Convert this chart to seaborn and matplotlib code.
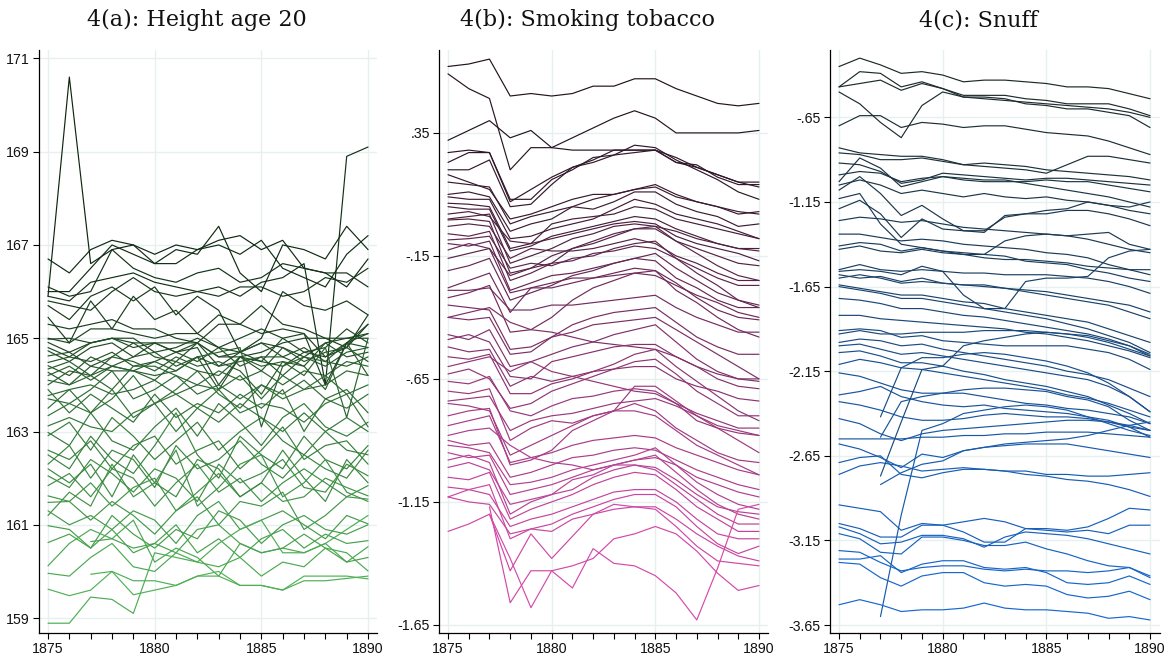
import numpy as np
import pandas as pd
import matplotlib
matplotlib.use("Agg")
import matplotlib.pyplot as plt
import seaborn as sns
from matplotlib.colors import LinearSegmentedColormap
from matplotlib.ticker import FixedLocator, MultipleLocator

nan = np.nan
years = list(range(1875, 1891))

height_lines = [
    [165.9,170.6,166.6,166.9,167.0,166.8,167.0,166.9,167.1,167.2,166.9,167.1,166.5,166.4,166.1,166.7],
    [166.7,166.4,166.9,167.1,167.0,166.6,166.9,166.8,167.4,166.4,166.0,167.0,166.9,166.7,167.4,166.9],
    [166.0,166.0,166.5,167.0,166.8,166.6,166.6,166.9,167.0,166.8,167.1,166.5,166.3,166.1,166.8,167.2],
    [166.1,165.9,166.0,166.9,166.5,166.3,166.2,166.4,166.5,166.2,166.3,166.6,166.5,166.4,166.4,166.1],
    [165.9,165.8,166.2,166.3,166.4,166.2,166.1,166.0,166.1,165.9,166.2,166.3,166.6,164.0,168.9,169.1],
    [165.8,165.7,165.6,166.0,166.3,166.0,165.9,166.0,165.9,166.1,166.1,165.9,166.0,166.3,166.2,166.5],
    [165.7,165.4,165.9,166.1,165.8,166.1,165.5,165.9,165.6,164.7,165.0,166.0,165.7,165.6,165.8,165.5],
    [165.45,164.9,165.8,165.2,165.9,165.4,165.6,165.1,165.5,165.3,165.7,165.3,165.2,165.0,164.8,165.3],
    [165.3,165.2,165.3,165.4,165.2,165.2,165.0,164.9,165.3,165.3,165.1,165.2,165.1,164.6,164.8,165.5],
    [164.98,165.0,164.9,165.0,164.9,164.9,164.9,164.9,164.6,164.6,164.7,164.9,165.0,165.0,165.0,165.1],
    [164.91,164.7,164.9,165.0,165.0,164.7,164.8,165.0,164.8,164.7,164.9,164.8,164.6,164.9,165.0,165.0],
    [164.73,164.5,164.8,164.9,164.6,164.9,164.7,164.9,164.4,164.7,164.5,165.0,164.7,164.8,165.2,164.9],
    [164.62,164.7,164.4,164.6,164.9,164.6,164.5,164.9,164.6,164.7,164.9,164.6,164.8,164.5,164.9,164.8],
    [164.48,164.6,164.5,164.7,164.4,164.5,164.7,164.5,164.8,164.4,164.6,164.6,164.4,164.9,164.6,164.7],
    [164.41,164.2,164.6,164.4,164.6,164.7,164.4,164.6,163.9,164.6,164.3,164.8,164.5,164.7,164.8,164.5],
    [164.34,164.5,164.2,164.6,164.5,164.3,164.6,164.4,164.5,164.3,163.8,164.5,164.4,163.9,164.9,164.2],
    [164.27,164.0,164.4,164.3,164.3,164.5,164.3,164.6,164.4,164.5,164.6,164.2,164.6,164.4,164.7,164.8],
    [164.2,164.4,164.1,164.4,164.3,164.1,164.5,164.3,164.2,164.6,164.4,164.5,164.2,164.8,163.3,165.0],
    [164.1,164.0,164.2,163.9,164.4,164.4,164.2,164.0,164.3,164.1,164.3,164.0,164.3,164.2,164.5,164.4],
    [163.77,163.9,164.0,163.8,163.9,164.1,163.8,164.0,163.9,164.2,163.7,164.2,163.9,164.0,164.3,164.2],
    [163.7,163.6,163.9,164.3,163.7,163.9,164.2,163.8,164.0,163.7,164.0,163.8,164.1,163.7,163.9,163.4],
    [163.34,163.6,163.4,163.9,163.3,163.6,163.8,163.5,163.9,163.4,163.6,163.5,163.2,163.6,163.8,163.1],
    [163.12,163.3,163.1,163.0,163.4,163.6,163.0,163.5,163.2,163.6,163.3,163.0,163.4,163.0,163.3,163.0],
    [162.98,162.7,163.4,162.8,162.6,163.1,163.5,162.9,163.6,163.2,162.7,163.3,163.6,163.1,162.9,163.2],
    [162.91,163.2,162.6,163.3,162.9,162.4,162.8,163.2,162.6,163.0,163.3,162.8,162.5,163.0,162.6,162.5],
    [162.6,162.4,162.8,162.2,162.7,162.9,162.3,162.6,162.8,162.2,162.6,163.1,162.4,162.7,162.8,162.3],
    [162.3,162.7,162.0,162.6,162.4,161.8,162.7,162.2,162.4,162.8,162.3,162.0,162.5,162.2,162.0,162.6],
    [162.05,161.8,162.4,162.1,161.7,162.2,162.0,161.5,162.3,161.9,162.1,162.4,161.8,161.7,162.3,162.05],
    [161.84,162.1,161.6,162.2,162.0,161.4,161.9,162.3,161.7,162.0,161.5,161.9,162.2,161.9,161.6,161.84],
    [161.62,161.5,161.9,161.4,161.8,162.0,161.3,161.7,162.1,161.6,161.9,161.5,161.6,162.0,161.8,161.62],
    [161.48,161.5,161.1,161.5,161.2,160.8,161.3,161.6,161.0,161.5,161.4,161.7,160.9,161.2,161.6,161.55],
    [161.30,161.0,161.2,160.9,161.3,161.1,160.6,161.2,161.5,160.9,161.1,161.3,161.0,160.7,161.2,161.02],
    [160.98,160.9,160.5,161.2,160.8,160.5,160.9,160.7,161.3,161.1,160.6,161.0,161.2,160.9,160.8,161.0],
    [160.62,160.8,160.5,160.9,160.4,160.6,161.0,160.4,160.7,160.3,160.7,160.9,160.5,160.8,160.6,160.66],
    [160.12,160.6,160.9,160.7,161.1,160.2,160.5,160.3,159.9,160.6,160.4,160.5,160.4,160.6,160.2,160.53],
    [159.96,159.9,160.3,160.6,160.1,160.0,160.4,160.2,160.1,160.3,159.9,160.2,160.1,160.5,160.4,160.01],
    [159.62,159.48,159.6,160.0,159.5,159.6,159.7,159.9,160.0,159.7,159.7,159.6,159.9,159.9,159.9,159.84],
    [158.89,158.89,159.45,159.4,159.1,160.4,160.3,160.2,160.6,160.9,161.1,160.4,160.4,160.6,160.9,161.2],
    [nan,nan,160.64,160.7,160.5,160.6,160.4,160.9,161.0,160.6,160.4,160.5,160.8,160.5,160.2,160.3],
    [nan,nan,159.94,160.0,159.8,159.8,159.7,159.9,159.9,159.7,159.7,159.6,159.8,159.8,159.85,159.9],
    [164.8,164.6,164.9,165.0,164.8,164.9,164.7,164.8,164.0,164.6,164.5,164.4,164.7,164.6,164.9,165.1],
    [164.0,164.3,164.2,164.4,164.3,164.2,164.3,164.6,164.7,164.8,163.1,164.4,164.6,164.5,164.4,164.6],
    [165.0,164.9,165.2,165.2,165.1,165.0,165.1,165.1,164.8,165.0,165.2,165.0,165.1,164.0,164.9,165.3],
    [163.5,163.9,163.4,163.7,164.2,163.6,163.9,164.3,163.8,163.5,164.0,163.7,163.9,164.2,163.8,164.0],
    [162.5,162.2,162.9,162.4,162.1,162.7,163.4,162.5,162.0,162.9,162.5,162.2,162.9,162.4,162.2,162.7],
    [161.2,161.7,161.4,162.3,161.6,161.9,162.6,161.4,161.8,162.3,162.5,161.6,161.9,162.4,161.7,161.5],
    [162.2,161.9,162.3,161.6,162.5,161.9,161.6,162.4,162.2,161.6,161.9,162.6,162.0,161.5,162.4,161.9],
    [163.9,163.4,163.8,163.5,163.2,163.8,163.3,163.6,163.4,163.8,163.5,163.9,163.0,163.7,163.5,163.8],
]

smoking_lines = [
    [0.62,0.63,0.65,0.50,0.51,0.50,0.51,0.54,0.54,0.57,0.57,0.53,0.50,0.47,0.46,0.47],
    [0.59,0.53,0.49,0.20,0.29,0.29,0.28,0.28,0.28,0.28,0.28,0.23,0.21,0.18,0.15,0.15],
    [0.32,0.36,0.40,0.33,0.36,0.29,0.33,0.37,0.41,0.44,0.41,0.35,0.35,0.35,0.35,0.36],
    [0.27,0.28,0.27,0.07,0.12,0.17,0.21,0.24,0.28,0.28,0.28,0.25,0.21,0.18,0.15,0.13],
    [0.23,0.27,0.27,0.08,0.08,0.16,0.20,0.25,0.26,0.30,0.29,0.24,0.20,0.16,0.11,0.08],
    [0.20,0.20,0.24,0.05,0.06,0.14,0.21,0.23,0.26,0.27,0.28,0.23,0.22,0.17,0.14,0.14],
    [0.18,0.15,0.12,0.00,0.02,0.05,0.08,0.10,0.10,0.12,0.14,0.10,0.07,0.05,0.02,0.03],
    [0.15,0.14,0.13,-0.02,0.01,0.03,0.05,0.08,0.10,0.12,0.13,0.09,0.07,0.05,0.03,0.02],
    [0.10,0.11,0.09,-0.05,-0.02,0.00,0.05,0.04,0.07,0.11,0.11,0.06,0.03,0.01,-0.03,-0.02],
    [0.09,0.08,0.08,-0.08,-0.07,-0.04,-0.02,0.00,0.04,0.08,0.06,0.02,0.00,-0.02,-0.05,-0.08],
    [0.064,0.06,0.05,-0.12,-0.10,-0.02,0.00,0.01,0.02,0.05,0.04,0.00,-0.02,-0.04,-0.06,-0.08],
    [0.05,0.04,0.04,-0.13,-0.11,-0.07,-0.05,-0.03,-0.01,0.01,0.00,-0.04,-0.07,-0.10,-0.12,-0.12],
    [0.02,0.03,0.01,-0.09,-0.10,-0.08,-0.06,-0.04,-0.02,-0.01,-0.02,-0.07,-0.10,-0.12,-0.14,-0.17],
    [0.00,0.01,0.02,-0.18,-0.15,-0.12,-0.08,-0.06,-0.03,-0.02,-0.03,-0.05,-0.08,-0.10,-0.12,-0.13],
    [-0.004,0.00,-0.01,-0.22,-0.20,-0.18,-0.12,-0.10,-0.07,-0.04,-0.04,-0.09,-0.12,-0.15,-0.18,-0.19],
    [-0.03,-0.02,-0.03,-0.16,-0.12,-0.13,-0.13,-0.12,-0.10,-0.08,-0.10,-0.15,-0.18,-0.22,-0.25,-0.25],
    [-0.06,-0.07,-0.05,-0.25,-0.22,-0.18,-0.17,-0.14,-0.13,-0.11,-0.12,-0.16,-0.20,-0.24,-0.27,-0.27],
    [-0.085,-0.08,-0.07,-0.20,-0.18,-0.19,-0.16,-0.15,-0.12,-0.10,-0.09,-0.16,-0.22,-0.27,-0.33,-0.36],
    [-0.10,-0.11,-0.09,-0.29,-0.26,-0.23,-0.22,-0.20,-0.18,-0.16,-0.14,-0.20,-0.25,-0.30,-0.33,-0.35],
    [-0.126,-0.10,-0.12,-0.30,-0.28,-0.26,-0.24,-0.24,-0.22,-0.20,-0.21,-0.26,-0.32,-0.37,-0.40,-0.41],
    [-0.16,-0.14,-0.12,-0.23,-0.20,-0.15,-0.12,-0.09,-0.06,-0.04,-0.03,-0.09,-0.14,-0.19,-0.23,-0.25],
    [-0.21,-0.19,-0.16,-0.33,-0.30,-0.27,-0.23,-0.21,-0.18,-0.16,-0.17,-0.24,-0.28,-0.33,-0.36,-0.36],
    [-0.28,-0.25,-0.22,-0.38,-0.28,-0.28,-0.26,-0.24,-0.23,-0.22,-0.23,-0.27,-0.31,-0.34,-0.38,-0.40],
    [-0.29,-0.29,-0.28,-0.37,-0.37,-0.35,-0.35,-0.34,-0.33,-0.32,-0.31,-0.36,-0.40,-0.43,-0.46,-0.46],
    [-0.32,-0.30,-0.27,-0.46,-0.45,-0.40,-0.33,-0.28,-0.25,-0.22,-0.21,-0.29,-0.34,-0.40,-0.45,-0.48],
    [-0.35,-0.36,-0.37,-0.53,-0.52,-0.48,-0.43,-0.40,-0.38,-0.37,-0.36,-0.42,-0.48,-0.52,-0.55,-0.55],
    [-0.40,-0.41,-0.40,-0.55,-0.54,-0.48,-0.46,-0.43,-0.42,-0.41,-0.40,-0.45,-0.50,-0.55,-0.60,-0.65],
    [-0.40,-0.38,-0.36,-0.42,-0.45,-0.46,-0.48,-0.50,-0.51,-0.52,-0.53,-0.56,-0.60,-0.63,-0.65,-0.66],
    [-0.47,-0.49,-0.45,-0.60,-0.58,-0.55,-0.52,-0.50,-0.47,-0.45,-0.43,-0.50,-0.57,-0.62,-0.65,-0.65],
    [-0.49,-0.47,-0.50,-0.64,-0.65,-0.58,-0.56,-0.54,-0.52,-0.51,-0.51,-0.56,-0.60,-0.65,-0.68,-0.69],
    [-0.52,-0.54,-0.53,-0.68,-0.64,-0.66,-0.64,-0.62,-0.61,-0.60,-0.60,-0.65,-0.68,-0.70,-0.73,-0.74],
    [-0.56,-0.57,-0.55,-0.71,-0.71,-0.67,-0.65,-0.62,-0.59,-0.55,-0.53,-0.60,-0.66,-0.72,-0.78,-0.82],
    [-0.60,-0.58,-0.56,-0.62,-0.58,-0.62,-0.64,-0.66,-0.68,-0.70,-0.71,-0.75,-0.79,-0.82,-0.85,-0.85],
    [-0.63,-0.61,-0.65,-0.77,-0.75,-0.70,-0.67,-0.64,-0.61,-0.58,-0.57,-0.63,-0.70,-0.75,-0.80,-0.80],
    [-0.66,-0.67,-0.64,-0.78,-0.80,-0.76,-0.73,-0.72,-0.70,-0.69,-0.70,-0.75,-0.82,-0.85,-0.87,-0.88],
    [-0.70,-0.71,-0.69,-0.90,-0.85,-0.82,-0.83,-0.80,-0.78,-0.68,-0.68,-0.74,-0.80,-0.85,-0.90,-0.95],
    [-0.74,-0.73,-0.72,-0.86,-0.82,-0.80,-0.79,-0.77,-0.75,-0.74,-0.73,-0.76,-0.80,-0.84,-0.86,-0.88],
    [-0.75,-0.76,-0.78,-0.96,-0.92,-0.88,-0.84,-0.80,-0.78,-0.75,-0.78,-0.85,-0.90,-0.95,-0.98,-0.99],
    [-0.80,-0.78,-0.77,-1.00,-0.98,-0.94,-0.86,-0.82,-0.78,-0.78,-0.80,-0.86,-0.92,-0.96,-1.00,-1.04],
    [-0.84,-0.82,-0.80,-0.99,-0.97,-0.95,-0.92,-0.90,-0.89,-0.88,-0.89,-0.93,-0.96,-0.99,-1.02,-1.04],
    [-0.88,-0.86,-0.85,-0.92,-0.97,-0.99,-1.00,-1.02,-1.00,-0.98,-0.97,-1.00,-1.05,-1.08,-1.11,-1.13],
    [-0.90,-0.92,-0.91,-1.05,-1.03,-1.00,-0.97,-0.96,-0.94,-0.93,-0.94,-0.98,-1.02,-1.05,-1.08,-1.10],
    [-0.92,-0.93,-0.95,-1.08,-1.07,-1.05,-1.02,-1.00,-0.98,-0.96,-0.93,-1.00,-1.07,-1.12,-1.16,-1.18],
    [-0.95,-0.97,-0.96,-1.12,-1.10,-1.08,-1.05,-1.02,-1.00,-0.98,-0.96,-1.03,-1.10,-1.16,-1.20,-1.22],
    [-0.98,-0.96,-0.99,-1.20,-1.15,-1.12,-1.10,-1.05,-1.02,-1.00,-1.01,-1.06,-1.12,-1.17,-1.19,-1.20],
    [-1.01,-0.99,-1.02,-1.16,-1.14,-1.12,-1.06,-1.04,-1.00,-1.00,-1.02,-1.08,-1.14,-1.20,-1.24,-1.24],
    [-1.05,-1.06,-1.03,-1.22,-1.18,-1.15,-1.12,-1.08,-1.05,-1.03,-1.04,-1.10,-1.17,-1.22,-1.27,-1.27],
    [-1.09,-1.10,-1.12,-1.25,-1.22,-1.20,-1.17,-1.14,-1.11,-1.10,-1.10,-1.15,-1.22,-1.28,-1.30,-1.30],
    [-1.13,-1.15,-1.16,-1.28,-1.26,-1.24,-1.20,-1.17,-1.14,-1.12,-1.12,-1.17,-1.25,-1.32,-1.36,-1.33],
    [-1.13,-1.10,-1.08,-1.30,-1.26,-1.27,-1.22,-1.20,-1.18,-1.17,-1.17,-1.22,-1.28,-1.33,-1.37,-1.39],
    [-1.27,-1.24,-1.20,-1.43,-1.28,-1.38,-1.29,-1.20,-1.16,-1.17,-1.18,-1.25,-1.33,-1.39,-1.40,-1.41],
    [nan,nan,-1.17,-1.56,-1.43,-1.43,-1.41,-1.38,-1.30,-1.28,-1.25,-1.28,-1.35,-1.44,-1.51,-1.49],
    [nan,nan,-1.20,-1.38,-1.58,-1.43,-1.50,-1.34,-1.40,-1.41,-1.45,-1.52,-1.63,-1.42,-1.18,-1.16],
]

snuff_lines = [
    [-0.35,-0.30,-0.34,-0.39,-0.38,-0.40,-0.44,-0.43,-0.43,-0.44,-0.45,-0.47,-0.47,-0.48,-0.51,-0.54],
    [-0.47,-0.38,-0.39,-0.47,-0.44,-0.48,-0.53,-0.53,-0.54,-0.57,-0.58,-0.60,-0.60,-0.62,-0.64,-0.71],
    [-0.47,-0.45,-0.43,-0.49,-0.45,-0.48,-0.52,-0.52,-0.52,-0.54,-0.55,-0.57,-0.57,-0.57,-0.60,-0.64],
    [-0.50,-0.57,-0.68,-0.77,-0.58,-0.50,-0.53,-0.54,-0.55,-0.56,-0.57,-0.58,-0.59,-0.60,-0.62,-0.65],
    [-0.70,-0.64,-0.64,-0.71,-0.68,-0.69,-0.71,-0.70,-0.70,-0.72,-0.74,-0.75,-0.76,-0.79,-0.83,-0.87],
    [-0.83,-0.86,-0.87,-0.88,-0.88,-0.90,-0.93,-0.94,-0.95,-0.96,-0.98,-0.93,-0.88,-0.88,-0.90,-0.92],
    [-0.86,-0.87,-0.90,-0.90,-0.89,-0.91,-0.93,-0.92,-0.93,-0.94,-0.96,-0.97,-0.98,-0.99,-1.00,-1.02],
    [-1.03,-0.89,-0.95,-1.06,-1.03,-1.00,-1.02,-1.03,-1.03,-1.03,-1.02,-1.03,-1.03,-1.05,-1.07,-1.09],
    [-0.92,-0.93,-0.97,-1.04,-1.02,-0.98,-0.99,-1.00,-1.01,-1.02,-1.01,-1.01,-1.02,-1.03,-1.04,-1.05],
    [-0.99,-0.97,-0.98,-1.03,-1.01,-1.00,-1.01,-1.02,-1.02,-1.04,-1.06,-1.08,-1.10,-1.12,-1.15,-1.18],
    [-1.05,-1.02,-1.05,-1.10,-1.08,-1.10,-1.12,-1.10,-1.12,-1.13,-1.12,-1.14,-1.15,-1.17,-1.20,-1.22],
    [-1.08,-1.00,-1.10,-1.23,-1.17,-1.25,-1.32,-1.32,-1.24,-1.22,-1.22,-1.20,-1.20,-1.22,-1.25,-1.29],
    [-1.19,-1.14,-1.22,-1.36,-1.25,-1.31,-1.32,-1.33,-1.23,-1.22,-1.20,-1.19,-1.15,-1.17,-1.18,-1.15],
    [-1.13,-1.10,-1.28,-1.40,-1.42,-1.44,-1.46,-1.46,-1.38,-1.35,-1.34,-1.35,-1.34,-1.33,-1.40,-1.43],
    [-1.26,-1.24,-1.25,-1.27,-1.26,-1.28,-1.30,-1.31,-1.32,-1.33,-1.34,-1.35,-1.37,-1.40,-1.43,-1.45],
    [-1.34,-1.34,-1.36,-1.38,-1.37,-1.38,-1.40,-1.41,-1.42,-1.43,-1.45,-1.46,-1.48,-1.52,-1.55,-1.58],
    [-1.41,-1.39,-1.40,-1.44,-1.42,-1.44,-1.45,-1.46,-1.47,-1.50,-1.51,-1.52,-1.55,-1.57,-1.60,-1.62],
    [-1.43,-1.41,-1.44,-1.45,-1.43,-1.45,-1.46,-1.48,-1.49,-1.49,-1.50,-1.51,-1.53,-1.54,-1.55,-1.55],
    [-1.55,-1.52,-1.55,-1.56,-1.55,-1.56,-1.57,-1.57,-1.58,-1.58,-1.58,-1.59,-1.60,-1.62,-1.65,-1.69],
    [-1.56,-1.55,-1.56,-1.58,-1.53,-1.56,-1.70,-1.78,-1.78,-1.62,-1.60,-1.60,-1.59,-1.48,-1.44,-1.43],
    [-1.58,-1.60,-1.59,-1.62,-1.60,-1.63,-1.64,-1.65,-1.66,-1.67,-1.68,-1.70,-1.72,-1.74,-1.76,-1.80],
    [-1.60,-1.58,-1.60,-1.63,-1.62,-1.63,-1.64,-1.64,-1.66,-1.68,-1.70,-1.72,-1.74,-1.76,-1.80,-1.84],
    [-1.64,-1.66,-1.68,-1.70,-1.70,-1.72,-1.74,-1.75,-1.78,-1.80,-1.82,-1.84,-1.86,-1.90,-1.94,-1.98],
    [-1.65,-1.67,-1.69,-1.72,-1.72,-1.74,-1.76,-1.78,-1.80,-1.82,-1.84,-1.87,-1.90,-1.94,-1.98,-2.04],
    [-1.72,-1.73,-1.75,-1.78,-1.78,-1.80,-1.82,-1.83,-1.85,-1.87,-1.89,-1.91,-1.93,-1.96,-2.00,-2.06],
    [-1.82,-1.82,-1.84,-1.85,-1.86,-1.87,-1.88,-1.89,-1.90,-1.92,-1.93,-1.95,-1.97,-2.00,-2.03,-2.07],
    [-1.91,-1.90,-1.91,-1.95,-1.94,-1.97,-1.98,-1.99,-2.00,-2.00,-2.00,-2.00,-2.02,-2.04,-2.08,-2.14],
    [-1.93,-1.91,-1.93,-1.93,-1.92,-1.92,-1.92,-1.91,-1.91,-1.91,-1.92,-1.93,-1.94,-1.97,-2.00,-2.05],
    [-1.98,-1.96,-1.97,-2.00,-1.99,-2.02,-2.04,-2.06,-2.08,-2.10,-2.12,-2.15,-2.17,-2.20,-2.25,-2.30],
    [-2.00,-1.99,-2.02,-2.05,-2.04,-2.06,-2.08,-2.10,-2.12,-2.14,-2.16,-2.18,-2.20,-2.24,-2.30,-2.39],
    [-2.04,-2.03,-2.06,-2.10,-2.10,-2.12,-2.15,-2.17,-2.20,-2.22,-2.24,-2.27,-2.30,-2.35,-2.40,-2.46],
    [-2.11,-2.08,-2.10,-2.13,-2.14,-2.16,-2.18,-2.20,-2.22,-2.24,-2.26,-2.29,-2.31,-2.34,-2.38,-2.42],
    [-2.16,-2.18,-2.22,-2.26,-2.28,-2.28,-2.28,-2.30,-2.32,-2.34,-2.35,-2.37,-2.38,-2.40,-2.42,-2.46],
    [-2.29,-2.27,-2.24,-2.30,-2.33,-2.35,-2.36,-2.35,-2.37,-2.38,-2.39,-2.40,-2.42,-2.44,-2.48,-2.54],
    [-2.33,-2.35,-2.38,-2.42,-2.44,-2.44,-2.43,-2.41,-2.40,-2.41,-2.42,-2.42,-2.43,-2.45,-2.48,-2.50],
    [-2.43,-2.46,-2.52,-2.56,-2.52,-2.50,-2.49,-2.48,-2.47,-2.46,-2.45,-2.44,-2.44,-2.45,-2.47,-2.50],
    [-2.55,-2.55,-2.55,-2.55,-2.54,-2.54,-2.53,-2.53,-2.52,-2.52,-2.51,-2.51,-2.51,-2.52,-2.53,-2.54],
    [-2.58,-2.61,-2.66,-2.72,-2.64,-2.66,-2.62,-2.60,-2.59,-2.58,-2.58,-2.58,-2.60,-2.62,-2.64,-2.66],
    [-2.69,-2.66,-2.65,-2.76,-2.78,-2.75,-2.73,-2.73,-2.74,-2.74,-2.76,-2.76,-2.77,-2.77,-2.76,-2.75],
    [-2.76,-2.71,-2.69,-2.71,-2.74,-2.73,-2.72,-2.73,-2.74,-2.76,-2.77,-2.79,-2.80,-2.82,-2.85,-2.89],
    [nan,nan,-2.42,-2.13,-2.07,-2.07,-2.05,-2.04,-2.05,-2.07,-2.09,-2.12,-2.16,-2.22,-2.30,-2.39],
    [nan,nan,-2.54,-2.33,-2.30,-2.28,-2.26,-2.25,-2.25,-2.26,-2.27,-2.30,-2.32,-2.36,-2.44,-2.50],
    [nan,nan,-2.77,-2.45,-2.14,-2.12,-2.00,-1.97,-1.95,-1.93,-1.92,-1.93,-1.95,-1.98,-2.02,-2.06],
    [nan,nan,-2.82,-2.75,-2.70,-2.68,-2.62,-2.60,-2.58,-2.57,-2.56,-2.55,-2.53,-2.50,-2.47,-2.45],
    [nan,nan,-3.60,-3.00,-2.50,-2.46,-2.40,-2.38,-2.36,-2.35,-2.36,-2.38,-2.42,-2.46,-2.50,-2.53],
    [-2.94,-2.96,-2.98,-3.09,-3.05,-3.06,-3.04,-3.02,-3.04,-3.08,-3.08,-3.09,-3.07,-3.02,-2.96,-2.97],
    [-3.05,-3.08,-3.13,-3.13,-3.06,-3.06,-3.10,-3.16,-3.16,-3.08,-3.09,-3.10,-3.09,-3.11,-3.06,-3.06],
    [-3.07,-3.11,-3.17,-3.16,-3.12,-3.12,-3.14,-3.19,-3.13,-3.10,-3.11,-3.12,-3.14,-3.17,-3.20,-3.23],
    [-3.11,-3.14,-3.22,-3.23,-3.13,-3.13,-3.15,-3.18,-3.18,-3.16,-3.20,-3.23,-3.27,-3.30,-3.31,-3.36],
    [-3.21,-3.22,-3.28,-3.33,-3.31,-3.30,-3.30,-3.32,-3.33,-3.32,-3.33,-3.33,-3.34,-3.33,-3.31,-3.37],
    [-3.26,-3.26,-3.24,-3.34,-3.29,-3.27,-3.27,-3.31,-3.32,-3.31,-3.34,-3.40,-3.41,-3.40,-3.36,-3.41],
    [-3.28,-3.29,-3.37,-3.42,-3.36,-3.34,-3.34,-3.40,-3.42,-3.41,-3.42,-3.47,-3.49,-3.48,-3.45,-3.50],
    [-3.53,-3.50,-3.53,-3.57,-3.56,-3.56,-3.55,-3.52,-3.55,-3.56,-3.56,-3.57,-3.58,-3.61,-3.60,-3.62],
]

titles = ["4(a): Height age 20", "4(b): Smoking tobacco", "4(c): Snuff"]
x_major = [1875, 1880, 1885, 1890]
a_ticks = [159, 161, 163, 165, 167, 169, 171]
a_labels = ["159", "161", "163", "165", "167", "169", "171"]
b_ticks = [0.35, -0.15, -0.65, -1.15, -1.65]
b_labels = [".35", "-.15", "-.65", "-1.15", "-1.65"]
c_ticks = [-0.65, -1.15, -1.65, -2.15, -2.65, -3.15, -3.65]
c_labels = ["-.65", "-1.15", "-1.65", "-2.15", "-2.65", "-3.15", "-3.65"]

sns.set_theme(style="white")
plt.rcParams["font.family"] = ["Liberation Sans", "DejaVu Sans"]

W, H = 1171, 658
fig = plt.figure(figsize=(W / 100, H / 100), dpi=100)

panels = [
    dict(lines=height_lines, left=39, right=377, xlim=(1874.578, 1890.42), ylim=(158.68, 171.18),
         ticks=a_ticks, labels=a_labels, c0="#0e2711", c1="#50b256", tx=197),
    dict(lines=smoking_lines, left=439, right=768, xlim=(1874.566, 1890.434), ylim=(-1.683, 0.687),
         ticks=b_ticks, labels=b_labels, c0="#22131e", c1="#d44aaa", tx=588),
    dict(lines=snuff_lines, left=830, right=1160, xlim=(1874.566, 1890.48), ylim=(-3.697, -0.252),
         ticks=c_ticks, labels=c_labels, c0="#1d2a27", c1="#1767cf", tx=978),
]
top_px, bot_px = 50, 633
grid_col = "#e6f0f1"

for i, p in enumerate(panels):
    ax = fig.add_axes([p["left"] / W, 1 - bot_px / H, (p["right"] - p["left"]) / W, (bot_px - top_px) / H])
    rows = []
    for k, vals in enumerate(p["lines"]):
        for yr, v in zip(years, vals):
            rows.append((k, yr, v))
    df = pd.DataFrame(rows, columns=["line", "year", "value"]).dropna()
    means = [np.nanmean(v) for v in p["lines"]]
    order = np.argsort(means)[::-1]
    cmap = LinearSegmentedColormap.from_list("g", [p["c0"], p["c1"]])
    n = len(p["lines"])
    pal = {}
    for r, k in enumerate(order):
        pal[k] = cmap(r / (n - 1))
    sns.lineplot(data=df, x="year", y="value", hue="line", palette=pal, units="line",
                 estimator=None, legend=False, linewidth=0.85, ax=ax, sort=True)
    ax.set_xlim(*p["xlim"])
    ax.set_ylim(*p["ylim"])
    ax.set_xlabel("")
    ax.set_ylabel("")
    ax.xaxis.set_major_locator(FixedLocator(x_major))
    ax.xaxis.set_minor_locator(MultipleLocator(1))
    ax.set_xticklabels([str(x) for x in x_major])
    ax.yaxis.set_major_locator(FixedLocator(p["ticks"]))
    ax.set_yticklabels(p["labels"])
    for x in x_major:
        ax.axvline(x, color=grid_col, lw=1.0, zorder=0)
    for y in p["ticks"]:
        ax.axhline(y, color=grid_col, lw=1.0, zorder=0)
    for s in ["top", "right"]:
        ax.spines[s].set_visible(False)
    for s in ["left", "bottom"]:
        ax.spines[s].set_color("black")
        ax.spines[s].set_linewidth(0.9)
    ax.tick_params(axis="both", which="both", direction="out", length=4.5, width=0.8,
                   color="black", labelsize=10.2, labelcolor="#111111", pad=2,
                   bottom=True, left=True)
    ax.tick_params(axis="x", which="minor", length=4.5)
    ax.set_facecolor("white")
    fig.text(p["tx"] / W, 1 - 20 / H, titles[i], ha="center", va="center",
             fontsize=16, family=["DejaVu Serif"], color="#111111")

fig.savefig("out.png", dpi=100, facecolor="white")
